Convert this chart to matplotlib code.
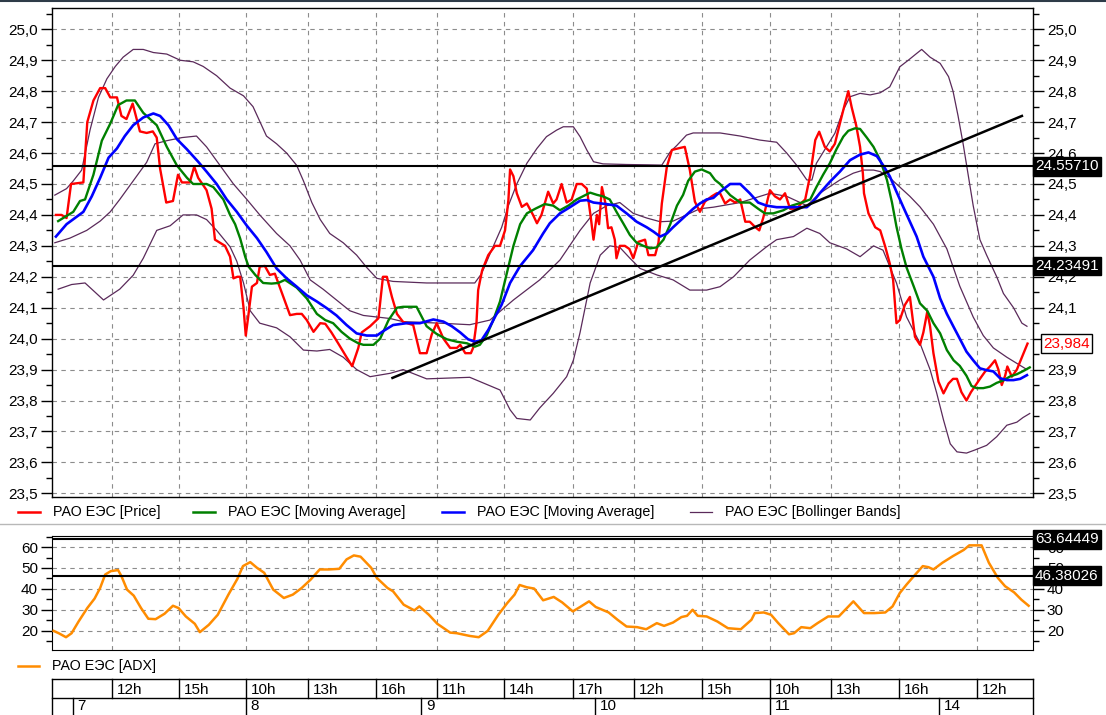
import matplotlib
matplotlib.use('Agg')
import matplotlib.pyplot as plt
from matplotlib.lines import Line2D
from matplotlib.ticker import FixedLocator, MultipleLocator, FuncFormatter
from matplotlib.transforms import blended_transform_factory
import numpy as np

plt.rcParams['font.family'] = ['Liberation Sans', 'DejaVu Sans']

# ---------------- data (x = 15-minute bar index, y = value) ----------------
price = [(0.7, 24.40), (1.7, 24.40), (2.6, 24.39), (3.4, 24.50), (5.6, 24.505), (6.3, 24.70), (7.4, 24.77),
         (8.6, 24.81), (9.5, 24.81), (10.4, 24.78), (11.6, 24.78), (12.4, 24.72), (13.3, 24.71), (14.4, 24.76),
         (15.7, 24.67), (16.9, 24.665), (18.0, 24.67), (18.7, 24.65), (19.3, 24.55), (20.4, 24.44), (21.6, 24.445),
         (22.5, 24.53), (23.2, 24.505), (24.6, 24.505), (25.4, 24.556), (26.1, 24.52), (27.6, 24.48), (28.5, 24.42),
         (29.1, 24.32), (30.0, 24.31), (30.9, 24.30), (31.8, 24.265), (32.4, 24.195), (33.1, 24.20), (33.6, 24.20),
         (34.2, 24.10), (34.6, 24.01), (35.1, 24.08), (35.7, 24.168), (36.6, 24.18), (37.1, 24.233), (38.0, 24.235),
         (38.9, 24.206), (39.8, 24.21), (41.3, 24.135), (42.5, 24.076), (43.7, 24.08), (44.6, 24.08), (45.5, 24.06),
         (46.7, 24.022), (47.9, 24.05), (48.8, 24.048), (49.9, 24.02), (51.1, 23.985), (52.6, 23.94), (53.6, 23.911),
         (54.7, 23.97), (55.3, 24.02), (56.8, 24.04), (58.3, 24.066), (59.1, 24.20), (59.8, 24.20), (60.7, 24.135),
         (61.6, 24.08), (62.7, 24.054), (64.5, 24.044), (65.7, 23.953), (66.9, 23.953), (67.8, 24.013), (68.7, 24.05),
         (69.9, 24.00), (71.1, 23.97), (72.3, 23.97), (72.9, 23.98), (73.8, 23.953), (74.8, 23.953), (75.2, 23.97),
         (75.8, 24.05), (76.1, 24.157), (76.8, 24.22), (77.9, 24.27), (79.1, 24.30), (80.0, 24.30), (80.9, 24.35),
         (81.5, 24.448), (81.8, 24.547), (82.4, 24.525), (83.0, 24.47), (83.9, 24.426), (84.8, 24.437), (85.9, 24.40),
         (86.6, 24.373), (87.4, 24.40), (88.6, 24.475), (89.5, 24.437), (90.1, 24.45), (91.0, 24.50), (91.9, 24.44),
         (92.8, 24.45), (93.7, 24.50), (94.6, 24.50), (95.5, 24.485), (96.2, 24.394), (96.7, 24.32), (97.3, 24.40),
         (97.7, 24.37), (98.2, 24.49), (98.8, 24.44), (99.3, 24.357), (99.9, 24.36), (100.5, 24.32), (100.8, 24.26),
         (101.4, 24.30), (102.3, 24.30), (103.1, 24.29), (103.8, 24.26), (104.7, 24.313), (105.9, 24.32), (106.5, 24.27),
         (107.7, 24.27), (108.3, 24.31), (108.9, 24.437), (109.8, 24.556), (110.7, 24.61), (111.8, 24.615), (113.0, 24.62),
         (113.9, 24.545), (114.8, 24.443), (115.7, 24.41), (116.6, 24.443), (117.8, 24.46), (118.7, 24.47), (119.3, 24.47),
         (120.2, 24.437), (121.1, 24.45), (122.0, 24.44), (122.9, 24.45), (123.8, 24.378), (124.6, 24.378), (125.5, 24.362),
         (126.3, 24.35), (127.0, 24.39), (128.2, 24.48), (129.1, 24.46), (130.0, 24.45), (130.9, 24.47), (131.8, 24.42),
         (133.0, 24.42), (133.9, 24.44), (134.5, 24.45), (135.4, 24.529), (136.3, 24.642), (137.0, 24.669), (138.0, 24.62),
         (138.9, 24.605), (139.8, 24.63), (140.7, 24.696), (141.6, 24.76), (142.2, 24.80), (142.8, 24.748), (143.6, 24.69),
         (144.3, 24.62), (144.8, 24.534), (145.0, 24.47), (145.8, 24.405), (147.0, 24.36), (147.9, 24.35), (148.8, 24.297),
         (149.6, 24.243), (150.2, 24.19), (150.8, 24.05), (151.4, 24.06), (152.3, 24.109), (153.2, 24.135), (154.1, 24.006),
         (155.0, 23.98), (155.6, 24.02), (156.3, 24.087), (156.8, 24.04), (157.4, 23.953), (158.3, 23.861), (159.2, 23.823),
         (160.1, 23.855), (160.9, 23.87), (161.6, 23.87), (162.4, 23.827), (163.3, 23.80), (164.1, 23.827), (164.8, 23.846),
         (165.7, 23.87), (166.6, 23.893), (167.5, 23.91), (168.4, 23.93), (169.0, 23.90), (169.6, 23.85), (170.2, 23.88),
         (170.6, 23.91), (171.4, 23.877), (172.3, 23.90), (173.2, 23.94), (174.2, 23.984)]

ma_green = [(1.1, 24.38), (3.8, 24.41), (5.0, 24.445), (5.9, 24.45), (7.4, 24.53), (8.9, 24.64), (10.4, 24.695),
            (11.8, 24.755), (13.3, 24.77), (14.8, 24.77), (16.3, 24.73), (18.7, 24.69), (20.5, 24.62), (22.3, 24.56),
            (24.1, 24.52), (25.2, 24.50), (27.6, 24.50), (28.8, 24.49), (30.6, 24.45), (31.8, 24.40), (32.7, 24.37),
            (33.6, 24.324), (34.5, 24.265), (35.1, 24.233), (36.3, 24.206), (37.7, 24.18), (39.2, 24.178), (40.4, 24.18),
            (41.6, 24.19), (43.7, 24.165), (45.5, 24.13), (47.3, 24.08), (48.8, 24.06), (50.2, 24.05), (51.7, 24.022),
            (53.2, 24.0), (54.7, 23.985), (55.6, 23.98), (57.4, 23.98), (58.6, 24.0), (60.1, 24.06), (61.6, 24.10),
            (62.7, 24.103), (65.1, 24.103), (66.9, 24.04), (68.7, 24.015), (70.5, 23.998), (72.3, 23.99), (74.1, 23.985),
            (75.5, 23.974), (76.4, 23.98), (77.6, 24.01), (78.8, 24.06), (80.0, 24.12), (81.5, 24.233), (82.4, 24.30),
            (83.6, 24.37), (84.8, 24.405), (86.3, 24.42), (88.0, 24.435), (89.5, 24.43), (90.7, 24.415), (92.2, 24.43),
            (93.7, 24.45), (94.9, 24.461), (96.1, 24.472), (97.3, 24.465), (98.4, 24.46), (99.6, 24.45), (100.8, 24.41),
            (102.0, 24.373), (103.2, 24.335), (104.4, 24.31), (105.6, 24.30), (106.8, 24.292), (108.0, 24.295),
            (109.2, 24.32), (110.4, 24.37), (111.6, 24.43), (112.7, 24.465), (113.6, 24.51), (114.8, 24.54),
            (116.0, 24.547), (117.5, 24.535), (118.4, 24.513), (119.3, 24.50), (121.1, 24.464), (122.9, 24.44),
            (124.6, 24.44), (126.1, 24.42), (127.3, 24.405), (128.8, 24.405), (130.6, 24.415), (132.1, 24.43),
            (133.9, 24.44), (135.4, 24.45), (136.5, 24.49), (137.7, 24.53), (138.9, 24.567), (140.1, 24.613),
            (141.3, 24.653), (142.2, 24.672), (143.4, 24.68), (144.3, 24.678), (145.5, 24.65), (146.7, 24.62),
            (147.9, 24.577), (149.1, 24.513), (150.0, 24.44), (150.8, 24.362), (151.7, 24.29), (152.6, 24.23),
            (153.9, 24.168), (155.0, 24.114), (156.3, 24.09), (157.4, 24.05), (158.6, 24.017), (159.8, 23.963),
            (161.0, 23.93), (162.1, 23.912), (163.3, 23.88), (164.2, 23.847), (165.1, 23.84), (166.3, 23.84),
            (167.5, 23.845), (168.7, 23.857), (169.9, 23.865), (171.1, 23.878), (172.3, 23.885), (173.4, 23.895),
            (174.6, 23.907)]

ma_blue = [(0.7, 24.33), (2.6, 24.37), (4.1, 24.39), (5.6, 24.41), (7.1, 24.46), (8.6, 24.52), (10.1, 24.585),
           (11.6, 24.615), (13.0, 24.655), (14.5, 24.69), (16.3, 24.715), (18.1, 24.728), (19.3, 24.72), (20.8, 24.69),
           (22.3, 24.645), (24.1, 24.612), (26.1, 24.572), (27.6, 24.54), (29.4, 24.50), (31.2, 24.45), (33.0, 24.41),
           (34.8, 24.365), (36.6, 24.325), (38.3, 24.28), (40.1, 24.227), (41.9, 24.195), (43.7, 24.168), (45.5, 24.14),
           (47.3, 24.12), (49.1, 24.098), (50.8, 24.075), (52.6, 24.044), (54.4, 24.017), (56.2, 24.01), (58.0, 24.01),
           (59.2, 24.025), (60.9, 24.044), (63.3, 24.05), (65.7, 24.05), (68.1, 24.062), (69.9, 24.055), (71.4, 24.04),
           (72.9, 24.02), (74.3, 23.998), (75.5, 23.99), (76.7, 23.995), (77.9, 24.028), (79.1, 24.07), (80.3, 24.11),
           (81.8, 24.18), (83.6, 24.235), (85.9, 24.286), (87.7, 24.34), (88.9, 24.373), (90.7, 24.405), (92.5, 24.425),
           (94.3, 24.446), (95.5, 24.448), (96.7, 24.44), (99.0, 24.435), (100.8, 24.43), (102.6, 24.405),
           (104.4, 24.378), (106.2, 24.36), (107.4, 24.346), (108.6, 24.33), (109.8, 24.34), (110.9, 24.36),
           (112.1, 24.38), (113.3, 24.40), (114.5, 24.42), (115.7, 24.437), (116.9, 24.45), (118.1, 24.455),
           (119.3, 24.475), (121.1, 24.50), (122.9, 24.50), (124.6, 24.47), (126.1, 24.44), (127.6, 24.43),
           (129.4, 24.425), (133.0, 24.425), (134.8, 24.425), (136.0, 24.445), (137.1, 24.47), (138.9, 24.507),
           (140.7, 24.54), (142.5, 24.577), (144.3, 24.595), (145.8, 24.602), (147.3, 24.59), (148.4, 24.561),
           (149.6, 24.525), (150.8, 24.475), (152.0, 24.426), (153.2, 24.378), (154.4, 24.33), (155.6, 24.265),
           (157.4, 24.20), (158.6, 24.13), (159.8, 24.08), (161.0, 24.038), (162.1, 24.0), (163.3, 23.958),
           (164.5, 23.93), (165.7, 23.904), (166.9, 23.898), (168.1, 23.894), (169.3, 23.872), (170.5, 23.866),
           (171.7, 23.866), (172.9, 23.87), (174.1, 23.882)]

bb_upper = [(0.5, 24.464), (2.6, 24.485), (3.8, 24.51), (5.3, 24.545), (6.8, 24.675), (8.3, 24.78), (9.8, 24.84),
            (11.3, 24.88), (12.7, 24.91), (14.5, 24.935), (16.3, 24.935), (18.1, 24.925), (20.5, 24.92), (22.9, 24.90),
            (25.2, 24.895), (27.0, 24.88), (29.4, 24.85), (31.8, 24.81), (34.2, 24.785), (35.9, 24.75), (38.3, 24.655),
            (40.1, 24.63), (41.9, 24.60), (43.7, 24.56), (44.9, 24.51), (46.4, 24.44), (47.9, 24.385), (49.6, 24.34),
            (52.0, 24.31), (54.4, 24.27), (56.2, 24.23), (58.0, 24.195), (60.9, 24.185), (66.9, 24.18), (72.9, 24.18),
            (75.5, 24.18), (76.7, 24.21), (78.5, 24.286), (80.3, 24.36), (81.5, 24.43), (83.0, 24.50), (84.8, 24.567),
            (86.6, 24.615), (88.3, 24.653), (90.1, 24.674), (91.3, 24.685), (93.1, 24.685), (94.3, 24.653),
            (95.5, 24.61), (96.7, 24.572), (98.4, 24.565), (102.6, 24.563), (106.2, 24.562), (108.9, 24.561),
            (110.4, 24.604), (111.6, 24.625), (113.3, 24.658), (114.5, 24.665), (119.3, 24.665), (122.9, 24.655),
            (126.4, 24.642), (129.4, 24.635), (131.2, 24.60), (133.0, 24.56), (134.8, 24.513), (135.7, 24.513),
            (136.5, 24.567), (138.3, 24.62), (139.8, 24.664), (141.3, 24.739), (142.5, 24.782), (144.3, 24.793),
            (146.1, 24.788), (147.9, 24.795), (149.6, 24.814), (151.4, 24.879), (152.9, 24.90), (154.4, 24.922),
            (155.3, 24.935), (156.8, 24.91), (158.6, 24.89), (160.1, 24.847), (160.9, 24.80), (161.8, 24.72),
            (162.7, 24.63), (163.6, 24.53), (164.5, 24.43), (165.7, 24.32), (166.9, 24.27), (168.7, 24.20),
            (169.9, 24.146), (171.7, 24.10), (173.2, 24.05), (174.1, 24.04)]

bb_middle = [(0.5, 24.31), (3.2, 24.325), (6.2, 24.35), (8.6, 24.38), (10.4, 24.41), (12.1, 24.45), (14.5, 24.51),
             (16.9, 24.57), (18.4, 24.63), (20.5, 24.64), (23.2, 24.65), (25.8, 24.655), (27.6, 24.62), (30.0, 24.56),
             (32.4, 24.50), (34.8, 24.45), (37.1, 24.40), (40.1, 24.34), (42.5, 24.30), (44.3, 24.254), (46.1, 24.19),
             (48.4, 24.16), (50.8, 24.125), (53.2, 24.09), (55.6, 24.075), (58.0, 24.07), (60.4, 24.065), (62.7, 24.055),
             (69.3, 24.05), (74.6, 24.045), (78.2, 24.06), (82.4, 24.125), (87.1, 24.19), (90.7, 24.254), (94.3, 24.35),
             (96.7, 24.405), (99.1, 24.43), (101.4, 24.44), (103.8, 24.405), (106.2, 24.39), (108.6, 24.378),
             (110.9, 24.38), (113.3, 24.40), (115.7, 24.42), (118.1, 24.425), (122.9, 24.44), (128.2, 24.47),
             (131.2, 24.46), (134.8, 24.43), (137.1, 24.47), (140.7, 24.513), (143.1, 24.535), (144.9, 24.545),
             (146.7, 24.545), (147.9, 24.54), (149.6, 24.52), (151.4, 24.49), (153.2, 24.46), (155.0, 24.426),
             (157.4, 24.37), (159.8, 24.29), (162.1, 24.17), (164.5, 24.07), (166.3, 24.01), (168.1, 23.97),
             (170.5, 23.94), (172.3, 23.92), (174.1, 23.90)]

bb_lower = [(1.1, 24.16), (3.5, 24.175), (5.9, 24.18), (6.8, 24.165), (9.2, 24.125), (12.1, 24.16), (14.5, 24.205),
            (16.3, 24.26), (18.7, 24.35), (21.1, 24.365), (23.4, 24.40), (25.8, 24.40), (27.6, 24.385), (29.4, 24.35),
            (31.8, 24.297), (33.0, 24.25), (34.2, 24.18), (35.4, 24.09), (37.1, 24.05), (40.1, 24.035), (42.5, 24.006),
            (44.9, 23.963), (47.3, 23.96), (49.6, 23.965), (52.0, 23.94), (54.4, 23.90), (56.8, 23.877), (60.4, 23.888),
            (62.7, 23.90), (66.9, 23.87), (74.6, 23.875), (80.0, 23.834), (81.8, 23.77), (83.0, 23.742), (85.4, 23.737),
            (87.1, 23.776), (89.5, 23.823), (91.9, 23.877), (93.1, 23.93), (94.3, 24.02), (96.1, 24.18), (97.9, 24.27),
            (99.6, 24.30), (101.4, 24.295), (103.2, 24.26), (105.0, 24.227), (108.0, 24.206), (110.9, 24.19),
            (113.9, 24.157), (116.9, 24.157), (119.3, 24.168), (121.7, 24.20), (124.6, 24.254), (127.6, 24.297),
            (129.4, 24.32), (132.4, 24.33), (134.8, 24.357), (137.1, 24.34), (138.9, 24.31), (141.9, 24.29),
            (144.3, 24.265), (146.7, 24.30), (148.4, 24.286), (150.8, 24.18), (152.6, 24.07), (155.0, 23.985),
            (156.8, 23.90), (158.0, 23.823), (159.2, 23.737), (160.4, 23.66), (161.6, 23.634), (163.3, 23.63),
            (164.8, 23.64), (166.9, 23.655), (168.7, 23.683), (170.5, 23.72), (172.3, 23.73), (173.4, 23.745),
            (174.6, 23.758)]

adx = [(0.3, 20.0), (1.2, 18.9), (2.5, 17.0), (3.5, 18.9), (4.75, 24.5), (6.3, 30.9), (7.6, 35.4), (8.6, 40.5),
       (9.5, 46.9), (10.5, 48.5), (11.8, 49.0), (12.4, 46.1), (13.4, 39.7), (14.6, 36.8), (15.9, 30.9), (17.2, 25.8),
       (18.5, 25.6), (20.1, 28.2), (21.6, 32.0), (22.6, 30.9), (23.9, 26.9), (25.5, 23.4), (26.4, 19.4), (28.0, 22.9),
       (29.6, 27.7), (31.5, 37.3), (33.1, 44.8), (34.1, 50.9), (35.4, 52.8), (36.6, 50.1), (37.9, 47.7), (39.5, 39.7),
       (41.4, 35.7), (43.0, 37.3), (44.6, 40.5), (46.2, 44.5), (47.8, 49.3), (49.4, 49.3), (51.3, 49.6), (52.6, 54.1),
       (53.9, 56.0), (55.1, 55.4), (57.0, 50.1), (58.0, 45.3), (59.9, 40.5), (60.9, 38.9), (62.8, 32.5), (64.7, 29.8),
       (65.6, 31.7), (67.3, 27.7), (68.8, 23.4), (71.1, 19.2), (72.3, 18.9), (74.6, 17.6), (76.2, 17.0), (77.8, 20.0),
       (79.7, 27.7), (81.3, 33.3), (82.6, 37.3), (83.5, 41.9), (84.8, 40.8), (86.1, 40.2), (87.7, 34.6), (89.6, 36.2),
       (91.1, 33.6), (93.0, 29.3), (94.3, 31.4), (95.9, 34.1), (97.1, 31.4), (99.4, 28.8), (101.0, 25.3),
       (102.6, 22.1), (104.5, 21.8), (106.1, 20.8), (108.0, 23.7), (109.3, 22.4), (110.9, 24.0), (112.4, 26.6),
       (113.4, 27.2), (114.4, 30.1), (115.3, 27.2), (116.9, 26.9), (118.8, 24.5), (120.7, 21.3), (123.0, 20.8),
       (124.9, 25.3), (125.5, 28.5), (127.1, 28.8), (128.4, 27.7), (129.7, 23.7), (131.6, 18.4), (132.5, 18.9),
       (133.8, 21.8), (135.4, 21.3), (136.7, 23.7), (138.6, 26.9), (140.5, 26.9), (143.1, 34.1), (145.0, 28.5),
       (146.9, 28.5), (148.8, 28.8), (150.1, 31.7), (151.4, 38.1), (152.6, 42.1), (153.9, 46.1), (155.5, 50.9),
       (156.5, 50.4), (157.4, 49.3), (159.0, 52.5), (160.9, 55.7), (162.8, 58.6), (163.8, 60.8), (166.0, 60.8),
       (167.3, 52.5), (168.9, 45.3), (170.2, 41.3), (171.8, 38.4), (173.1, 34.9), (174.4, 32.0)]

trend_line = [(60.8, 23.873), (173.2, 24.720)]
price_levels = [24.5571, 24.23491]
price_level_labels = ['24.55710', '24.23491']
adx_levels = [63.64449, 46.38026]
adx_level_labels = ['63.64449', '46.38026']
last_price = 23.984
last_price_label = '23,984'

hour_ticks = [10.7, 22.6, 34.6, 45.7, 57.9, 68.7, 80.8, 93.0, 103.9, 116.1, 128.2, 139.1, 151.3, 165.2]
hour_labels = ['12h', '15h', '10h', '13h', '16h', '11h', '14h', '17h', '12h', '15h', '10h', '13h', '16h', '12h']
day_starts = [3.7, 34.6, 65.9, 97.0, 128.2, 158.4]
day_labels = ['7', '8', '9', '10', '11', '14']

legend_main = ['РАО ЕЭС [Price]', 'РАО ЕЭС [Moving Average]', 'РАО ЕЭС [Moving Average]', 'РАО ЕЭС [Bollinger Bands]']
legend_adx = 'РАО ЕЭС [ADX]'

# ---------------- styling ----------------
C_RED, C_GREEN, C_BLUE, C_PURPLE, C_ORANGE = '#ff0000', '#008000', '#0000ff', '#5a2a5a', '#ff8c00'
GRID = dict(color='#8c8c8c', linestyle=(0, (4, 4)), linewidth=0.8)
XMAX = 175.18
TICK_FS = 11
LEG_FS = 10.3

W, H = 1106, 715
fig = plt.figure(figsize=(W / 100, H / 100), dpi=100)
fig.patch.set_facecolor('white')

ax = fig.add_axes([52 / W, 1 - 496.7 / H, 981 / W, (496.7 - 8.3) / H])
ax2 = fig.add_axes([52 / W, 1 - 650 / H, 981 / W, (650 - 535.7) / H])
ax3 = fig.add_axes([52 / W, 0, 981 / W, 36 / H])


def xy(pts):
    a = np.array(pts, dtype=float)
    return a[:, 0], a[:, 1]


comma = FuncFormatter(lambda v, p: f'{v:.1f}'.replace('.', ','))

# main panel
for pts in (bb_upper, bb_middle, bb_lower):
    x, y = xy(pts)
    ax.plot(x, y, color=C_PURPLE, lw=0.9, zorder=3)
x, y = xy(price); ax.plot(x, y, color=C_RED, lw=1.7, zorder=4)
x, y = xy(ma_green); ax.plot(x, y, color=C_GREEN, lw=1.7, zorder=5)
x, y = xy(ma_blue); ax.plot(x, y, color=C_BLUE, lw=1.9, zorder=6)
x, y = xy(trend_line); ax.plot(x, y, color='black', lw=1.8, zorder=7)
for lv in price_levels:
    ax.axhline(lv, color='black', lw=1.5, zorder=7)

ax.set_xlim(0, XMAX)
ax.set_ylim(23.489, 25.068)
ax.xaxis.set_major_locator(FixedLocator(hour_ticks))
ax.tick_params(axis='x', length=0, labelbottom=False)
ax.yaxis.set_major_locator(MultipleLocator(0.1))
ax.yaxis.set_minor_locator(MultipleLocator(0.05))
ax.yaxis.set_major_formatter(comma)
ax.tick_params(axis='y', which='major', length=8, width=1, labelsize=TICK_FS, pad=2,
               left=True, right=True, labelleft=True, labelright=True)
ax.tick_params(axis='y', which='minor', length=4, width=1, left=True, right=True)
ax.grid(True, which='major', **GRID)
ax.set_axisbelow(True)
for s in ax.spines.values():
    s.set_linewidth(1.0)

tr = blended_transform_factory(ax.transAxes, ax.transData)
for lv, lab in zip(price_levels, price_level_labels):
    ax.text(1.0 + 2 / 981, lv, lab, transform=tr, color='white', fontsize=TICK_FS, ha='left', va='center',
            bbox=dict(boxstyle='square,pad=0.15', fc='black', ec='black'), clip_on=False, zorder=10)
ax.text(1.0 + 10 / 981, last_price, last_price_label, transform=tr, color=C_RED, fontsize=TICK_FS, ha='left',
        va='center', bbox=dict(boxstyle='square,pad=0.15', fc='white', ec='black', lw=1), clip_on=False, zorder=10)

# ADX panel
x, y = xy(adx); ax2.plot(x, y, color=C_ORANGE, lw=1.8, zorder=4)
for lv in adx_levels:
    ax2.axhline(lv, color='black', lw=1.5, zorder=5)
ax2.set_xlim(0, XMAX)
ax2.set_ylim(10.9, 65.4)
ax2.xaxis.set_major_locator(FixedLocator(hour_ticks))
ax2.tick_params(axis='x', length=0, labelbottom=False)
ax2.yaxis.set_major_locator(FixedLocator([20, 30, 40, 50, 60]))
ax2.yaxis.set_minor_locator(MultipleLocator(5))
ax2.tick_params(axis='y', which='major', length=8, width=1, labelsize=TICK_FS, pad=2,
                left=True, right=True, labelleft=True, labelright=True)
ax2.tick_params(axis='y', which='minor', length=4, width=1, left=True, right=True)
ax2.grid(True, which='major', **GRID)
ax2.set_axisbelow(True)
tr2 = blended_transform_factory(ax2.transAxes, ax2.transData)
for lv, lab in zip(adx_levels, adx_level_labels):
    ax2.text(1.0 + 2 / 981, lv, lab, transform=tr2, color='white', fontsize=TICK_FS, ha='left', va='center',
             bbox=dict(boxstyle='square,pad=0.15', fc='black', ec='black'), clip_on=False, zorder=10)

# time table
ax3.set_xlim(0, XMAX)
ax3.set_ylim(0, 1)
ax3.axis('off')
sep = 17 / 36
lk = dict(color='black', lw=1.0, clip_on=False)
ax3.plot([0, XMAX], [1, 1], **lk)
ax3.plot([0, XMAX], [sep, sep], **lk)
ax3.plot([0, 0], [0, 1], **lk)
ax3.plot([XMAX, XMAX], [0, 1], **lk)
for hx, hl in zip(hour_ticks, hour_labels):
    ax3.plot([hx, hx], [sep, 1], **lk)
    ax3.annotate(hl, (hx, (1 + sep) / 2 - 0.03), xytext=(3.5, 0), textcoords='offset points',
                 fontsize=TICK_FS, ha='left', va='center')
for dx, dl in zip(day_starts, day_labels):
    ax3.plot([dx, dx], [0, sep], **lk)
    ax3.annotate(dl, (dx, sep / 2 + 0.02), xytext=(3.5, 0), textcoords='offset points',
                 fontsize=TICK_FS, ha='left', va='center')


# legends (figure pixel layout)
def fx(px):
    return px / W


def fy(py):
    return 1 - py / H


for (l0, t0), lab, c in zip([(18, 53), (193, 228), (442, 477), (690, 725)], legend_main,
                            [C_RED, C_GREEN, C_BLUE, C_PURPLE]):
    fig.add_artist(Line2D([fx(l0), fx(l0 + 22)], [fy(512), fy(512)], color=c,
                          lw=0.9 if c == C_PURPLE else 1.8))
    fig.text(fx(t0), fy(512), lab, fontsize=LEG_FS, ha='left', va='center')
fig.add_artist(Line2D([fx(18), fx(39)], [fy(666), fy(666)], color=C_ORANGE, lw=1.8))
fig.text(fx(52), fy(666), legend_adx, fontsize=LEG_FS, ha='left', va='center')

# frame lines
fig.add_artist(Line2D([0, 1], [fy(0.8), fy(0.8)], color='#2e3b48', lw=1.5))
fig.add_artist(Line2D([0, 1], [fy(524), fy(524)], color='#b8b8b8', lw=1.0))

fig.savefig('out.png', dpi=100, facecolor='white')
